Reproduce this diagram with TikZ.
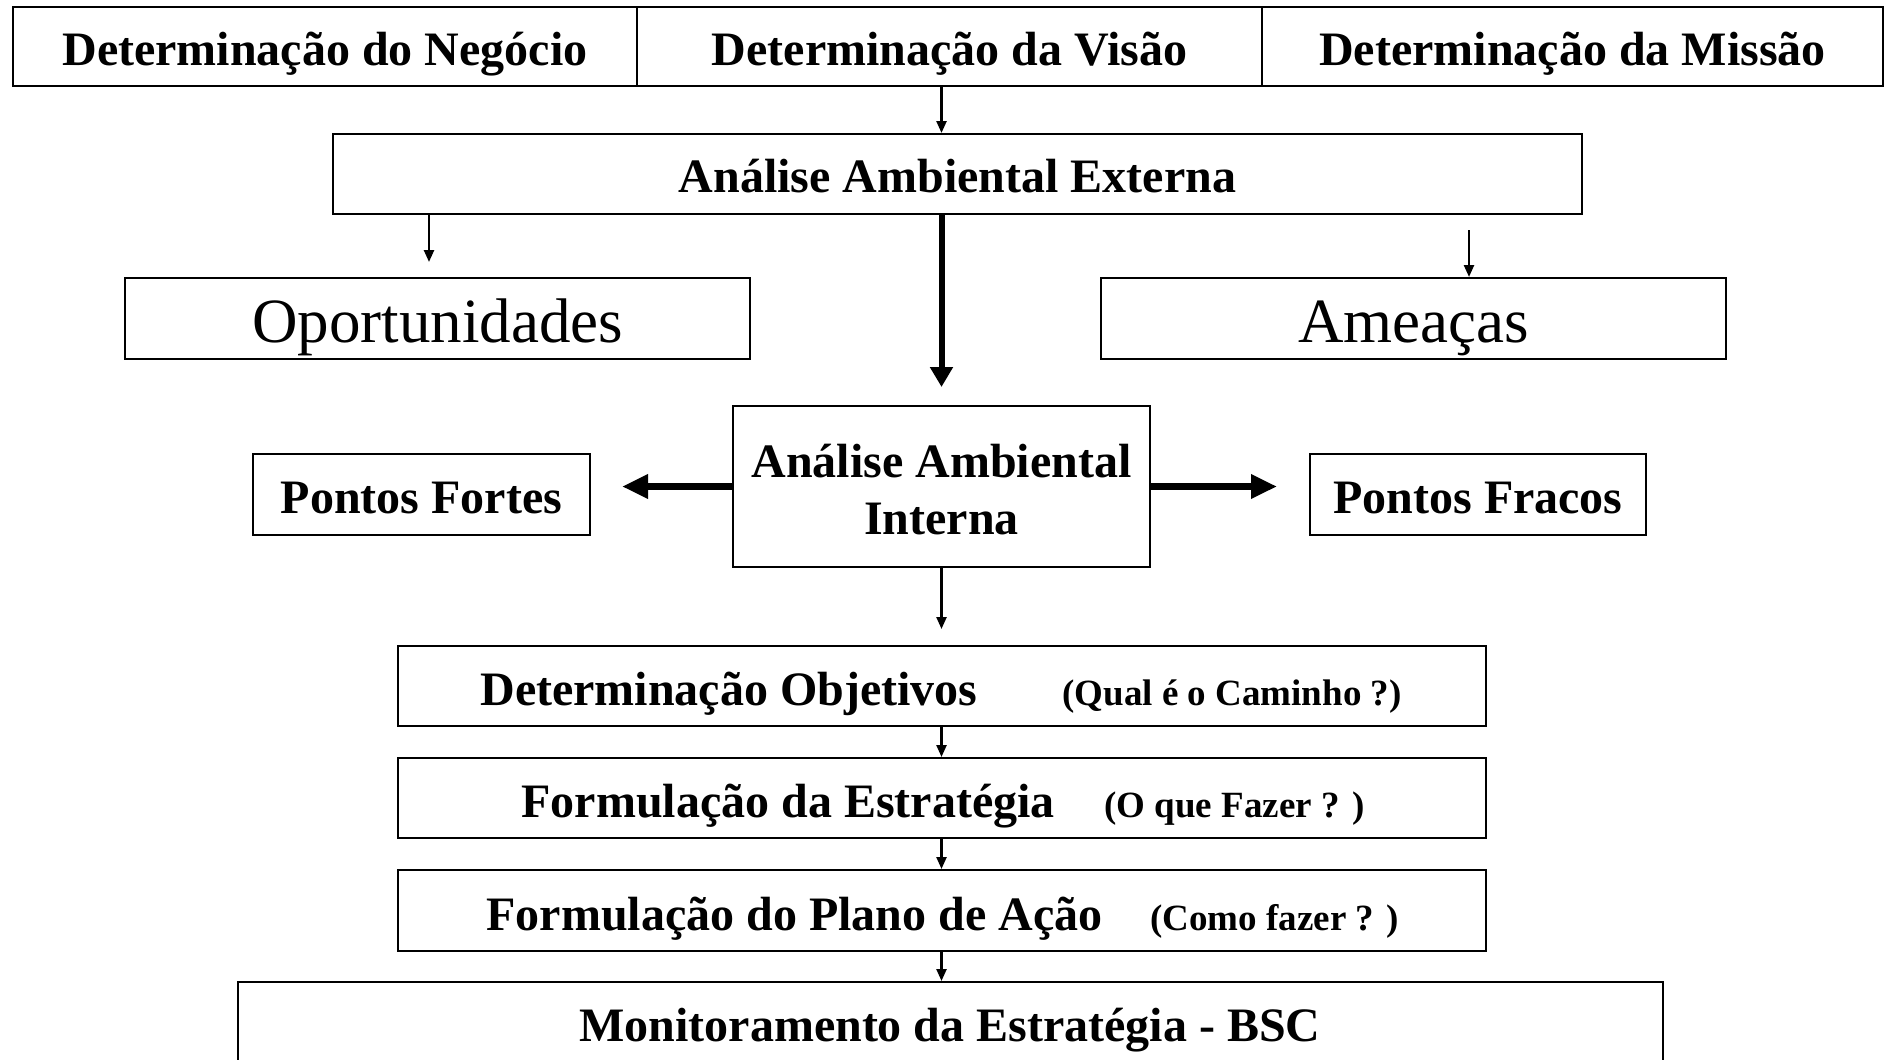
\documentclass[tikz,border=0pt]{standalone}
\usepackage{fontspec}
\setmainfont{Liberation Serif}
\usetikzlibrary{arrows.meta}
\begin{document}
\begin{tikzpicture}[x=0.5pt,y=-0.5pt,
  boxb/.style={draw, line width=1pt, inner sep=0pt, text height=18.5pt, text depth=0pt, font=\bfseries\fontsize{24pt}{28.5pt}\selectfont},
  boxr/.style={draw, line width=1pt, inner sep=0pt, text height=23.5pt, text depth=0pt, font=\fontsize{31.5pt}{36pt}\selectfont},
  frame/.style={draw, line width=1pt, inner sep=0pt},
  txt/.style={inner sep=0pt, font=\bfseries\fontsize{24pt}{28.5pt}\selectfont},
  subtxt/.style={inner sep=0pt, font=\bfseries\fontsize{18.5pt}{22pt}\selectfont},
  thinarrow/.style={line width=1.2pt, -{Triangle[length=6pt,width=5pt]}},
  bigarrow/.style={line width=3pt, -{Triangle[length=10pt,width=11pt]}},
  sidearrow/.style={line width=3.5pt, -{Triangle[length=13pt,width=11.5pt]}}]
\useasboundingbox (0,0) rectangle (1885,1060);
\fill[white] (0,0) rectangle (1885,1060);

% top row
\node[boxb, minimum width=312pt, minimum height=39.5pt] (c1) at (325,46.5) {Determinação do Negócio};
\node[boxb, minimum width=312.5pt, minimum height=39.5pt] (c2) at (949.5,46.5) {Determinação da Visão};
\node[boxb, minimum width=310.5pt, minimum height=39.5pt] (c3) at (1572.5,46.5) {Determinação da Missão};

% external analysis
\node[boxb, minimum width=624.5pt, minimum height=40pt] (ext) at (957.5,174) {Análise Ambiental Externa};
\node[boxr, minimum width=312.5pt, minimum height=40.5pt] (opo) at (437.5,318.5) {Oportunidades};
\node[boxr, minimum width=312.5pt, minimum height=40.5pt] (ame) at (1413.5,318.5) {Ameaças};

% internal analysis
\node[frame, minimum width=208.5pt, minimum height=80.5pt] (int) at (941.5,486.5) {};
\node[txt, anchor=base] (int1) at (941.5,477) {Análise Ambiental};
\node[txt, anchor=base] (int2) at (941.5,534) {Interna};
\node[boxb, minimum width=168.5pt, minimum height=40.5pt] (pf) at (421.5,494.5) {Pontos Fortes};
\node[boxb, minimum width=168pt, minimum height=40.5pt] (pfr) at (1478,494.5) {Pontos Fracos};

% lower chain
\node[frame, minimum width=544pt, minimum height=40pt] (obj) at (942,686) {};
\node[txt, anchor=base west] (objt) at (480,705) {Determinação Objetivos};
\node[subtxt, anchor=base west] (objs) at (1062,705) {(Qual é o Caminho ?)};

\node[frame, minimum width=544pt, minimum height=40pt] (est) at (942,798) {};
\node[txt, anchor=base west] (estt) at (521,817) {Formulação da Estratégia};
\node[subtxt, anchor=base west] (ests) at (1104,817) {(O que Fazer ? )};

\node[frame, minimum width=544pt, minimum height=40.5pt] (pla) at (942,910.5) {};
\node[txt, anchor=base west] (plat) at (486,930) {Formulação do Plano de Ação};
\node[subtxt, anchor=base west] (plas) at (1150,930) {(Como fazer ? )};

\node[frame, minimum width=712.5pt, minimum height=49pt] (mon) at (950.5,1031) {};
\node[txt, anchor=base] (mont) at (950,1041) {Monitoramento da Estratégia - BSC};

% free ends
\coordinate (oa) at (429,262);
\coordinate (am1) at (1469,230);

% connectors
\draw[thinarrow] (c2.south -| int.north) -- (ext.north -| int.north);
\draw[thinarrow] (ext.south -| oa) -- (oa);
\draw[thinarrow] (am1) -- (ame.north -| am1);
\draw[bigarrow, shorten >=9pt] (ext.south -| int.north) -- (int.north);
\draw[sidearrow, shorten >=15.5pt] (int.west) -- (pf.east |- int.west);
\draw[sidearrow, shorten >=16pt] (int.east) -- (pfr.west |- int.east);
\draw[thinarrow, shorten >=8pt] (int.south) -- (obj.north -| int.south);
\draw[thinarrow] (obj.south -| int.south) -- (est.north -| int.south);
\draw[thinarrow] (est.south -| int.south) -- (pla.north -| int.south);
\draw[thinarrow] (pla.south -| int.south) -- (mon.north -| int.south);
\end{tikzpicture}
\end{document}
